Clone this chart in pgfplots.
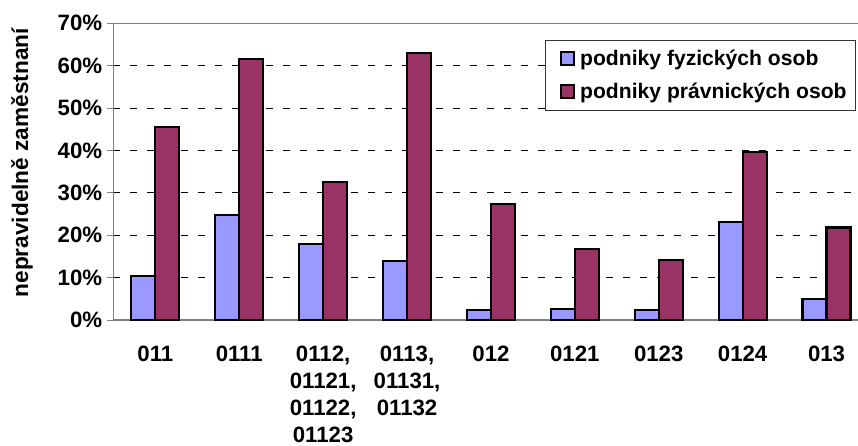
\documentclass[border=0pt]{standalone}
\usepackage{fontspec}
\setmainfont{Liberation Sans}
\usepackage{pgfplots}
\pgfplotsset{compat=1.18}
\definecolor{cblue}{HTML}{9999FF}
\definecolor{cred}{HTML}{993366}
\definecolor{axgray}{HTML}{808080}
\begin{document}
\begin{tikzpicture}
\begin{axis}[
  at={(0,0)}, anchor=south west,
  scale only axis, width=744.6bp, height=296.7bp,
  xmin=-0.5, xmax=8.375, ymin=0, ymax=70,
  ybar=0pt, bar width=24bp,
  axis x line=box, axis y line*=left,
  axis line style={axgray, line width=1.3bp},
  ytick={0,10,20,30,40,50,60,70},
  yticklabels={0\%,10\%,20\%,30\%,40\%,50\%,60\%,70\%},
  ytick pos=left, tick align=outside, major tick length=6bp,
  ytick style={axgray, line width=1bp},
  xtick={0,1,2,3,4,5,6,7,8},
  xtick style={draw=none},
  xticklabels={011, 0111, {0112,\\01121,\\01122,\\01123}, {0113,\\01131,\\01132}, 012, 0121, 0123, 0124, 013},
  tick label style={font=\fontsize{22.3}{27}\selectfont\bfseries},
  xticklabel style={align=center, anchor=north, inner sep=0pt, yshift=-20bp},
  yticklabel style={anchor=east, inner sep=0pt, xshift=-5bp},
  ymajorgrids,
  grid style={black, dash pattern=on 7bp off 10bp, line width=0.8bp},
  ylabel={nepravidelně zaměstnaní},
  ylabel style={font=\fontsize{22.7}{26}\selectfont\bfseries, at={(axis description cs:-0.1228,0.530)}, anchor=center},
  legend cell align=left,
  legend style={at={(rel axis cs:1,1)}, anchor=north east, xshift=-2bp, yshift=-16.7bp,
    draw=black!80, line width=0.8bp, font=\fontsize{21.2}{26}\selectfont\bfseries,
    inner xsep=7bp, inner ysep=8bp, row sep=12bp},
  legend image code/.code={\path (0bp,0bp) (24bp,0bp); \draw[#1, line width=2.2bp] (8bp,-6.5bp) rectangle (21bp,6.5bp);},
]
\addplot[fill=cblue, draw=black, line width=2.2bp] coordinates {
(0,10.4) (1,24.7) (2,17.9) (3,13.9) (4,2.4) (5,2.6) (6,2.4) (7,23.2) (8,4.9)};
\addplot[fill=cred, draw=black, line width=2.2bp] coordinates {
(0,45.5) (1,61.5) (2,32.6) (3,62.9) (4,27.3) (5,16.7) (6,14.1) (7,39.6) (8,21.8)};
\legend{podniky fyzických osob, podniky právnických osob}
\coordinate (sw) at (rel axis cs:0,0);
\end{axis}
\pgfresetboundingbox
\path[use as bounding box] ([shift={(-113.4bp,-126bp)}]sw) rectangle ([shift={(744.6bp,320bp)}]sw);
\end{tikzpicture}
\end{document}
